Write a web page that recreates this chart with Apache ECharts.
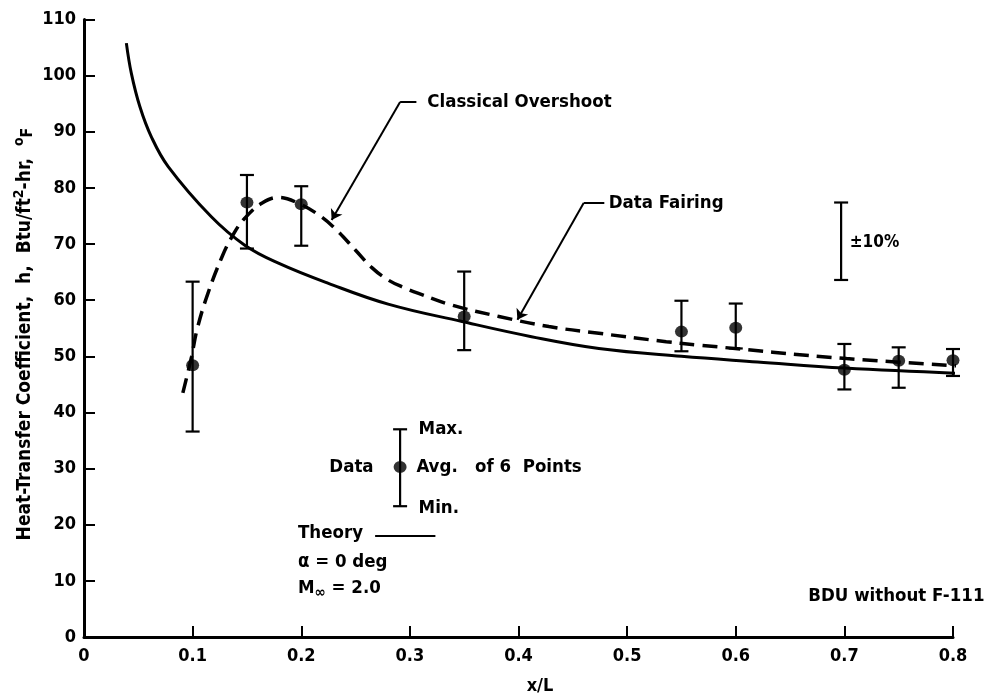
<!DOCTYPE html>
<html>
<head>
<meta charset="utf-8">
<script src="https://cdn.jsdelivr.net/npm/echarts@6/dist/echarts.min.js"></script>
<style>
  html, body { margin: 0; padding: 0; background: #fff; }
  #container { width: 1003px; height: 697px; }
</style>
</head>
<body>
<div id="container"></div>
<script>
// theory curve (solid) and data fairing (dashed), [x/L, h]
var theoryCurve = [[0.039, 105.8], [0.0436, 100.4], [0.0514, 94.5], [0.062, 89.1], [0.0775, 83.8],
    [0.117, 74.9], [0.148, 69.8], [0.179, 66.6], [0.225, 63.0], [0.28, 59.3],
    [0.348, 56.2], [0.412, 53.5], [0.474, 51.4], [0.55, 50.0], [0.62, 49.0], [0.7, 47.9], [0.84, 46.7]];
var fairingCurve = [[0.091, 43.5], [0.099, 49.9], [0.104, 54.7], [0.113, 60.6], [0.127, 67.7],
    [0.138, 71.9], [0.148, 74.6], [0.164, 77.3], [0.179, 78.3], [0.197, 77.3], [0.216, 75.2],
    [0.231, 72.8], [0.25, 68.9], [0.265, 65.8], [0.28, 63.6], [0.295, 62.2], [0.308, 61.2],
    [0.339, 59.1], [0.382, 57.1], [0.428, 55.3], [0.474, 54.1], [0.536, 52.6], [0.566, 52.0],
    [0.702, 49.6], [0.841, 47.9]];

// measured data: average, max, min of 6 points
var dataX   = [0.1, 0.15, 0.2, 0.35, 0.55, 0.6, 0.7, 0.75, 0.8];
var dataAvg = [48.4, 77.4, 77.1, 57.1, 54.4, 55.1, 47.6, 49.2, 49.3];
var dataMax = [63.3, 82.3, 80.3, 65.1, 59.9, 59.4, 52.2, 51.6, 51.3];
var dataMin = [36.6, 69.2, 69.7, 51.1, 50.9, 51.4, 44.1, 44.4, 46.5];

// key symbol (x, avg, max, min) and the +-10% scale bar (x, top, bottom)
var keyBar = [0.291, 30.3, 37.0, 23.3];
var tolBar = [0.697, 77.4, 63.6];

var yTicks = [0, 110, 10];
var xTicks = [0, 0.8, 0.1];

var FONT = '"DejaVu Sans Condensed", sans-serif';
var INK = '#000';

var dom = document.getElementById('container');
var myChart = echarts.init(dom);

var barData = dataX.map(function (x, i) { return [x, dataMax[i], dataMin[i]]; });
barData.push([keyBar[0], keyBar[2], keyBar[3]]);
barData.push([tolBar[0], tolBar[1], tolBar[2]]);
var dotData = dataX.map(function (x, i) { return [x, dataAvg[i]]; });
dotData.push([keyBar[0], keyBar[1]]);

function renderBar(params, api) {
    var x = api.value(0);
    var top = api.coord([x, api.value(1)]);
    var bot = api.coord([x, api.value(2)]);
    var hw = 7;
    var st = { stroke: INK, lineWidth: 2.2 };
    return {
        type: 'group',
        children: [
            { type: 'line', shape: { x1: top[0], y1: top[1], x2: bot[0], y2: bot[1] }, style: st },
            { type: 'line', shape: { x1: top[0] - hw, y1: top[1], x2: top[0] + hw, y2: top[1] }, style: st },
            { type: 'line', shape: { x1: bot[0] - hw, y1: bot[1], x2: bot[0] + hw, y2: bot[1] }, style: st }
        ]
    };
}

var option = {
    backgroundColor: '#fff',
    animation: false,
    grid: { left: 84, right: 50, top: 19.5, bottom: 60 },
    xAxis: {
        type: 'value',
        min: xTicks[0], max: xTicks[1], interval: xTicks[2],
        splitLine: { show: false },
        axisLine: { lineStyle: { color: INK, width: 3 } },
        axisTick: { inside: true, length: 11, lineStyle: { color: INK, width: 2 } },
        axisLabel: {
            color: INK, fontFamily: FONT, fontWeight: 'bold', fontSize: 18, margin: 10,
            formatter: function (v) { return v === 0 ? '0' : v.toFixed(1); }
        }
    },
    yAxis: {
        type: 'value',
        min: yTicks[0], max: yTicks[1], interval: yTicks[2],
        splitLine: { show: false },
        axisLine: { lineStyle: { color: INK, width: 3 } },
        axisTick: { inside: true, length: 11, lineStyle: { color: INK, width: 2 } },
        axisLabel: { color: INK, fontFamily: FONT, fontWeight: 'bold', fontSize: 18, margin: 8 }
    },
    series: [{
        name: 'Theory',
        type: 'line',
        data: theoryCurve,
        smooth: 0.4,
        showSymbol: false,
        clip: false,
        lineStyle: { color: INK, width: 3 },
        markLine: {
            silent: true,
            symbol: ['none', 'none'],
            symbolSize: 10,
            label: { show: false },
            lineStyle: { color: INK, width: 2, type: 'solid' },
            data: [
                [{ coord: [0.306, 95.3] }, { coord: [0.291, 95.3] }],
                [{ coord: [0.291, 95.3] }, { coord: [0.228, 74.3], symbol: 'arrow' }],
                [{ coord: [0.479, 77.3] }, { coord: [0.460, 77.3] }],
                [{ coord: [0.460, 77.3] }, { coord: [0.399, 56.5], symbol: 'arrow' }],
                [{ coord: [0.268, 18.0] }, { coord: [0.3235, 18.0] }]
            ]
        }
    }, {
        name: 'Data Fairing',
        type: 'line',
        data: fairingCurve,
        smooth: 0.4,
        showSymbol: false,
        clip: false,
        lineStyle: { color: INK, width: 3.5, type: [15, 8] }
    }, {
        name: 'Range',
        type: 'custom',
        data: barData,
        renderItem: renderBar,
        encode: { x: 0, y: [1, 2] },
        z: 5
    }, {
        name: 'Avg',
        type: 'scatter',
        data: dotData,
        symbol: 'circle',
        symbolSize: [13, 12],
        itemStyle: { color: INK },
        z: 6
    }]
};

myChart.setOption(option, true);

function px(x, y) { return myChart.convertToPixel({ gridIndex: 0 }, [x, y]); }

function txt(x, y, str, align, extra) {
    var p = px(x, y);
    var style = {
        text: str, fill: INK, fontFamily: FONT, fontWeight: 'bold', fontSize: 18.5,
        align: align || 'left', verticalAlign: 'middle'
    };
    if (extra) { for (var k in extra) style[k] = extra[k]; }
    return { type: 'text', x: p[0], y: p[1], style: style };
}

var graphics = [
    txt(0.316, 95.3, 'Classical Overshoot'),
    txt(0.483, 77.3, 'Data Fairing'),
    txt(0.705, 70.2, '\u00b110%', 'left', { fontSize: 17 }),
    txt(0.308, 37.0, 'Max.'),
    txt(0.306, 30.3, 'Avg.   of 6  Points'),
    txt(0.308, 23.0, 'Min.'),
    txt(0.2666, 30.3, 'Data', 'right'),
    txt(0.197, 18.5, 'Theory'),
    txt(0.197, 13.4, '\u03b1 = 0 deg'),
    txt(0.197, 8.7, '{m|M}{s|\u221e} = 2.0', 'left', {
        rich: {
            m: { fontFamily: FONT, fontWeight: 'bold', fontSize: 18.5, fill: INK },
            s: { fontFamily: FONT, fontWeight: 'bold', fontSize: 15, fill: INK, padding: [10, 0, 0, 0] }
        }
    }),
    txt(0.829, 7.2, 'BDU without F-111', 'right'),
    {
        type: 'text', x: 540, y: 686,
        style: { text: 'x/L', fill: INK, fontFamily: FONT, fontWeight: 'bold', fontSize: 18, align: 'center', verticalAlign: 'middle' }
    },
    {
        type: 'text', x: 25, y: 334, rotation: Math.PI / 2,
        style: {
            text: '{a|Heat-Transfer Coefficient,  h,  Btu/ft}{b|2}{a|-hr,  }{b|o}{c|F}',
            align: 'center', verticalAlign: 'middle',
            rich: {
                a: { fontFamily: FONT, fontWeight: 'bold', fontSize: 19, fill: INK },
                b: { fontFamily: FONT, fontWeight: 'bold', fontSize: 14, fill: INK, padding: [0, 0, 11, 0] },
                c: { fontFamily: FONT, fontWeight: 'bold', fontSize: 16, fill: INK, padding: [5, 0, 0, 0] }
            }
        }
    }
];

myChart.setOption({ graphic: graphics });
</script>
</body>
</html>
